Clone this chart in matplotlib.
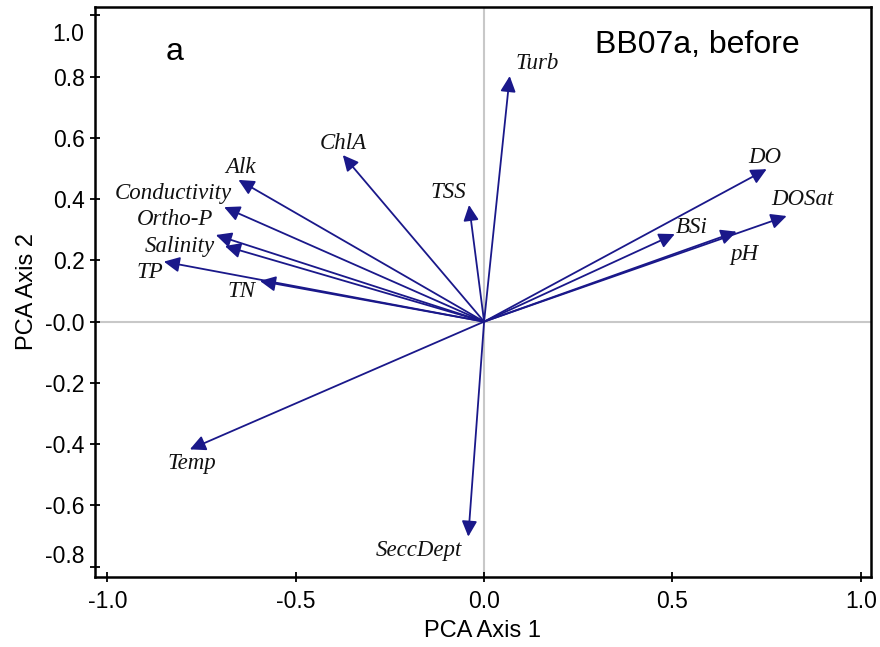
import matplotlib
matplotlib.use("Agg")
import matplotlib.pyplot as plt
import matplotlib.transforms as mtransforms

# PCA loadings (axis 1, axis 2)
variables = ['Turb', 'ChlA', 'Alk', 'Conductivity', 'Ortho-P', 'Salinity', 'TP', 'TN',
             'TSS', 'DO', 'DOSat', 'BSi', 'pH', 'Temp', 'SeccDept']
axis1 = [0.068, -0.375, -0.652, -0.690, -0.712, -0.688, -0.850, -0.595,
         -0.040, 0.750, 0.803, 0.506, 0.670, -0.781, -0.042]
axis2 = [0.802, 0.544, 0.463, 0.374, 0.283, 0.247, 0.196, 0.133,
         0.381, 0.498, 0.345, 0.286, 0.294, -0.417, -0.702]

x_ticks = [-1.0, -0.5, 0.0, 0.5, 1.0]
y_ticks = [1.0, 0.8, 0.6, 0.4, 0.2, 0.0, -0.2, -0.4, -0.6, -0.8]
y_ticklabels = ['1.0', '0.8', '0.6', '0.4', '0.2', '-0.0', '-0.2', '-0.4', '-0.6', '-0.8']

# where each name sits relative to its arrow tip (pixels)
label_offsets = {
    'Turb': (27, 13), 'ChlA': (0, 12), 'Alk': (2, 12), 'Conductivity': (-51, 14),
    'Ortho-P': (-41, 15), 'Salinity': (-45, 0), 'TP': (-14, -11), 'TN': (-18, -11),
    'TSS': (-21, 12), 'DO': (-2, 12), 'DOSat': (16, 17), 'BSi': (17, 7),
    'pH': (8, -23), 'Temp': (2, -14), 'SeccDept': (-49, -14),
}

ARROW = '#1a188a'
SANS = 'Liberation Sans'

fig = plt.figure(figsize=(8.8, 6.47), dpi=100)
ax = fig.add_axes([0.108, 0.1087, 0.8814, 0.881])

ax.set_xlim(-1.0326, 1.026)
ax.set_ylim(-0.8327, 1.0286)

# reference lines through origin
ax.axvline(0, color='#c8c8c8', lw=1.5, zorder=0)
ax.axhline(0, color='#c8c8c8', lw=1.5, zorder=0)

for name, x, y in zip(variables, axis1, axis2):
    ax.annotate('', xy=(x, y), xytext=(0, 0),
                arrowprops=dict(arrowstyle='-|>,head_length=0.47,head_width=0.23',
                                mutation_scale=20, color=ARROW, lw=1.3,
                                shrinkA=0, shrinkB=0))
    dx, dy = label_offsets[name]
    ax.annotate(name, xy=(x, y), xytext=(dx, dy), textcoords='offset pixels',
                ha='center', va='center', fontsize=16.5, style='italic',
                family='Liberation Serif', color='#111111')

ax.text(0.776, 0.933, 'BB07a, before', transform=ax.transAxes, ha='center',
        va='center', fontsize=23, family=SANS)
ax.text(0.103, 0.920, 'a', transform=ax.transAxes, ha='center',
        va='center', fontsize=23, family=SANS)

ax.set_xticks(x_ticks)
ax.set_xticklabels(['%.1f' % v for v in x_ticks], family=SANS, fontsize=16.5)
ax.set_yticks(y_ticks)
ax.set_yticklabels(y_ticklabels, family=SANS, fontsize=16.5)
ax.tick_params(direction='inout', length=7, width=1.3)
ax.tick_params(axis='x', pad=6)
ax.tick_params(axis='y', pad=4)

# the end labels on the y axis sit pulled inward in the original
labels = ax.get_yticklabels()
labels[0].set_transform(labels[0].get_transform() +
                        mtransforms.ScaledTranslation(0, -0.17, fig.dpi_scale_trans))
labels[-1].set_transform(labels[-1].get_transform() +
                         mtransforms.ScaledTranslation(0, 0.13, fig.dpi_scale_trans))

for s in ax.spines.values():
    s.set_linewidth(1.8)

ax.set_xlabel('PCA Axis 1', family=SANS, fontsize=17, labelpad=5)
ax.set_ylabel('PCA Axis 2', family=SANS, fontsize=17, labelpad=5)

fig.savefig('out.png', dpi=100)
